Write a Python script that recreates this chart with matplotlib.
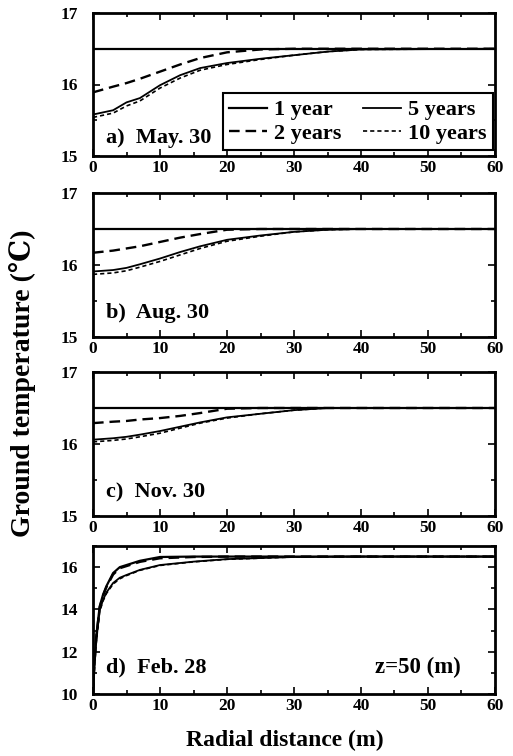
import matplotlib
matplotlib.use("Agg")
import matplotlib.pyplot as plt
from matplotlib.ticker import MultipleLocator

plt.rcParams['font.family'] = ['Liberation Serif', 'DejaVu Serif']
plt.rcParams['font.weight'] = 'bold'

# ---- data ----
series_labels = ["1 year", "2 years", "5 years", "10 years"]
panel_titles = ["a)  May. 30", "b)  Aug. 30", "c)  Nov. 30", "d)  Feb. 28"]

x_abc = [0, 3, 5, 7, 10, 13, 16, 20, 25, 30, 35, 40, 60]
a_1y = [16.5] * 13
a_2y = [15.89, 15.97, 16.02, 16.08, 16.18, 16.28, 16.37, 16.45, 16.49, 16.5, 16.5, 16.5, 16.5]
a_5y = [15.58, 15.64, 15.75, 15.81, 15.99, 16.13, 16.23, 16.30, 16.36, 16.41, 16.46, 16.49, 16.5]
a_10y = [15.54, 15.60, 15.70, 15.77, 15.95, 16.09, 16.20, 16.28, 16.35, 16.41, 16.46, 16.49, 16.5]

b_1y = [16.5] * 13
b_2y = [16.17, 16.20, 16.23, 16.26, 16.32, 16.38, 16.43, 16.49, 16.5, 16.5, 16.5, 16.5, 16.5]
b_5y = [15.91, 15.93, 15.96, 16.01, 16.09, 16.18, 16.26, 16.35, 16.41, 16.46, 16.49, 16.5, 16.5]
b_10y = [15.87, 15.89, 15.92, 15.97, 16.05, 16.14, 16.23, 16.33, 16.40, 16.46, 16.49, 16.5, 16.5]

c_1y = [16.5] * 13
c_2y = [16.29, 16.31, 16.32, 16.34, 16.36, 16.39, 16.43, 16.49, 16.5, 16.5, 16.5, 16.5, 16.5]
c_5y = [16.06, 16.08, 16.10, 16.13, 16.18, 16.24, 16.30, 16.37, 16.42, 16.47, 16.5, 16.5, 16.5]
c_10y = [16.03, 16.05, 16.07, 16.10, 16.15, 16.22, 16.29, 16.36, 16.42, 16.47, 16.5, 16.5, 16.5]

x_d = [0, 0.2, 0.5, 1, 1.5, 2, 3, 4, 5, 7, 10, 15, 20, 30, 40, 60]
d_1y = [10.0, 11.5, 12.8, 14.15, 14.7, 15.1, 15.72, 16.0, 16.1, 16.3, 16.48, 16.5, 16.5, 16.5, 16.5, 16.5]
d_2y = [10.0, 11.4, 12.7, 14.1, 14.65, 15.05, 15.65, 15.95, 16.05, 16.25, 16.42, 16.48, 16.5, 16.5, 16.5, 16.5]
d_5y = [10.0, 11.2, 12.55, 13.97, 14.45, 14.8, 15.25, 15.5, 15.63, 15.87, 16.1, 16.26, 16.38, 16.48, 16.5, 16.5]
d_10y = [10.0, 11.2, 12.5, 13.9, 14.4, 14.75, 15.2, 15.45, 15.6, 15.85, 16.08, 16.25, 16.37, 16.48, 16.5, 16.5]

panels = [
    (x_abc, [a_1y, a_2y, a_5y, a_10y], (15, 17), 1, 0.5),
    (x_abc, [b_1y, b_2y, b_5y, b_10y], (15, 17), 1, 0.5),
    (x_abc, [c_1y, c_2y, c_5y, c_10y], (15, 17), 1, 0.5),
    (x_d, [d_1y, d_2y, d_5y, d_10y], (10, 17), 2, 1),
]

styles = [
    dict(linestyle='-', linewidth=1.6),
    dict(linestyle=(0, (4.5, 2.5)), linewidth=1.7),
    dict(linestyle='-', linewidth=1.3),
    dict(linestyle=(0, (2.5, 1.8)), linewidth=1.2),
]

W, H = 513, 756
fig = plt.figure(figsize=(W / 100, H / 100), dpi=100)

boxes = [(13, 156), (193, 337), (372, 516), (546, 694)]
left, right = 93, 495
label_pos = [0.055, 0.095, 0.095, 0.11]

axes = []
for i, ((top, bot), (xs, ys, ylim, ymaj, ymin)) in enumerate(zip(boxes, panels)):
    ax = fig.add_axes([left / W, 1 - bot / H, (right - left) / W, (bot - top) / H])
    axes.append(ax)
    for yv, lab, st in zip(ys, series_labels, styles):
        ax.plot(xs, yv, color='black', label=lab, **st)
    ax.set_xlim(0, 60)
    ax.set_ylim(*ylim)
    ax.xaxis.set_major_locator(MultipleLocator(10))
    ax.xaxis.set_minor_locator(MultipleLocator(5))
    ax.yaxis.set_major_locator(MultipleLocator(ymaj))
    ax.yaxis.set_minor_locator(MultipleLocator(ymin))
    ax.tick_params(which='both', direction='in', top=True, right=True,
                   width=1.2, labelsize=12.5)
    ax.tick_params(which='major', length=5)
    ax.tick_params(axis='x', which='major', pad=3)
    ax.tick_params(axis='y', which='major', pad=11)
    ax.tick_params(which='minor', length=3)
    for s in ax.spines.values():
        s.set_linewidth(2.0)
    for t in ax.get_xticklabels() + ax.get_yticklabels():
        t.set_fontweight('bold')
    ax.text(0.032, label_pos[i], panel_titles[i], transform=ax.transAxes,
            fontsize=16, fontweight='bold', ha='left', va='bottom')

axes[3].text(0.915, 0.11, "z=50 (m)", transform=axes[3].transAxes,
             fontsize=16.5, fontweight='bold', ha='right', va='bottom')

leg = axes[0].legend(ncol=2, loc='lower right', bbox_to_anchor=(0.995, 0.04),
                     fontsize=16, frameon=True, fancybox=False, framealpha=1,
                     edgecolor='black', handlelength=1.7, handletextpad=0.3,
                     columnspacing=1.0, borderpad=0.3, labelspacing=0.12,
                     borderaxespad=0)
leg.get_frame().set_linewidth(1.5)
for t in leg.get_texts():
    t.set_fontweight('bold')

fig.text(285 / W, 1 - 740 / H, "Radial distance (m)", ha='center', va='center',
         fontsize=17, fontweight='bold')
fig.text(23 / W, 1 - 383 / H, "Ground temperature (\u2103)", ha='center', va='center',
         rotation=90, fontsize=20, fontweight='bold')

fig.savefig("out.png", dpi=100)
